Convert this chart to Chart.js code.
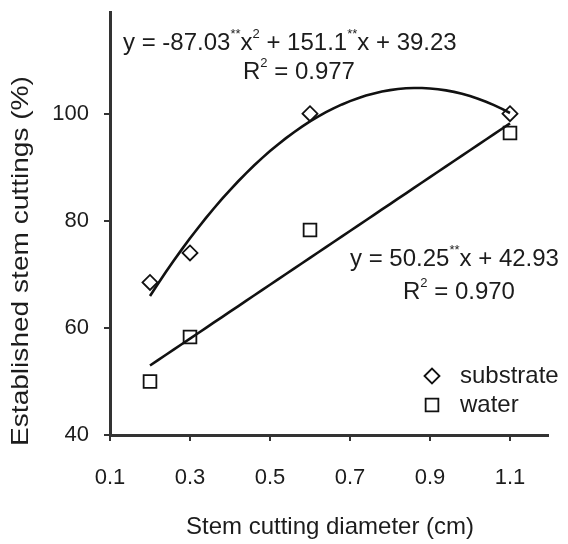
<!DOCTYPE html>
<html lang="en">
<head>
  <meta charset="UTF-8">
  <title>Established stem cuttings</title>
  <style>
    body { margin: 0; background: #fff; }
    #wrap { width: 568px; height: 544px; }
  </style>
</head>
<body>
  <div id="wrap"><canvas id="stemChart" width="568" height="544"></canvas></div>

  <script src="https://cdn.jsdelivr.net/npm/chart.js"></script>
  <script>
    // values
    const diameters = [0.2, 0.3, 0.6, 1.1];
    const substrate = [68.5, 74, 100, 100];
    const water = [50, 58.3, 78.3, 96.4];
    const xTicks = [0.1, 0.3, 0.5, 0.7, 0.9, 1.1];
    const yTicks = [40, 60, 80, 100];

    // regression equations printed on the figure
    const quadFit = [-87.03, 151.1, 39.23];   // a x^2 + b x + c
    const linFit = [50.25, 42.93];            // m x + q
    const fitRange = [0.2, 1.1];

    const ink = '#1c1c1c';
    const fontFamily = '"Liberation Sans", Arial, sans-serif';

    // sample the fitted curves between the first and last diameter
    const fitX = [];
    for (let i = 0; i <= 45; i++) fitX.push(fitRange[0] + (fitRange[1] - fitRange[0]) * i / 45);
    const quadPts = fitX.map(x => ({ x: x, y: quadFit[0] * x * x + quadFit[1] * x + quadFit[2] }));
    const linPts = fitX.map(x => ({ x: x, y: linFit[0] * x + linFit[1] }));

    const toPts = vals => diameters.map((d, i) => ({ x: d, y: vals[i] }));

    // text with superscripts: runs of [text, isSup]
    function richText(ctx, runs, x, y, size) {
      let cx = x;
      runs.forEach(r => {
        const s = r[1] ? Math.round(size * 0.55) : size;
        ctx.font = s + 'px ' + fontFamily;
        ctx.fillText(r[0], cx, r[1] ? y - size * 0.34 : y);
        cx += ctx.measureText(r[0]).width;
      });
    }

    const notes = {
      id: 'notes',
      afterDraw(chart) {
        const ctx = chart.ctx;
        ctx.save();
        ctx.fillStyle = ink;
        ctx.textBaseline = 'middle';
        ctx.textAlign = 'left';

        richText(ctx, [['y = -87.03', 0], ['**', 1], ['x', 0], ['2', 1], [' + 151.1', 0], ['**', 1], ['x + 39.23', 0]], 123, 43, 24);
        richText(ctx, [['R', 0], ['2', 1], [' = 0.977', 0]], 243, 72, 24);
        richText(ctx, [['y = 50.25', 0], ['**', 1], ['x + 42.93', 0]], 350, 259, 24);
        richText(ctx, [['R', 0], ['2', 1], [' = 0.970', 0]], 403, 292, 24);

        // legend
        const items = [chart.data.datasets[0], chart.data.datasets[1]];
        items.forEach((ds, i) => {
          const y = 376 + i * 29;
          ctx.strokeStyle = ds.borderColor;
          ctx.fillStyle = '#fff';
          ctx.lineWidth = ds.borderWidth;
          Chart.helpers.drawPoint(ctx, { pointStyle: ds.pointStyle, radius: ds.pointRadius, borderWidth: ds.borderWidth, rotation: 0 }, 432, y);
          ctx.fillStyle = ink;
          ctx.font = '24px ' + fontFamily;
          ctx.fillText(ds.label, 460, y);
        });

        // axis titles
        ctx.font = '24px ' + fontFamily;
        ctx.textAlign = 'center';
        ctx.fillText('Stem cutting diameter (cm)', 330, 527);
        ctx.translate(21, 261);
        ctx.rotate(-Math.PI / 2);
        ctx.scale(1.17, 1);
        ctx.fillText('Established stem cuttings (%)', 0, 0);
        ctx.restore();
      }
    };

    const axisStyle = {
      border: { display: true, color: '#333', width: 3 },
      grid: { drawOnChartArea: false, drawTicks: true, tickLength: 6, color: '#333', lineWidth: 2 },
    };

    const config = {
      type: 'scatter',
      data: {
        datasets: [
          {
            label: 'substrate',
            data: toPts(substrate),
            pointStyle: 'rectRot',
            pointRadius: 7.5,
            borderWidth: 1.8,
            borderColor: '#111',
            backgroundColor: '#fff',
            order: 2
          },
          {
            label: 'water',
            data: toPts(water),
            pointStyle: 'rect',
            pointRadius: 9,
            borderWidth: 1.8,
            borderColor: '#111',
            backgroundColor: '#fff',
            order: 2
          },
          {
            label: 'substrate fit',
            data: quadPts,
            showLine: true,
            pointRadius: 0,
            borderWidth: 2.6,
            borderColor: '#111',
            order: 1
          },
          {
            label: 'water fit',
            data: linPts,
            showLine: true,
            pointRadius: 0,
            borderWidth: 2.6,
            borderColor: '#111',
            order: 1
          }
        ]
      },
      options: {
        responsive: false,
        animation: false,
        layout: { padding: { left: 0, top: 12, right: 20, bottom: 0 } },
        plugins: {
          legend: { display: false },
          tooltip: { enabled: false }
        },
        scales: {
          x: {
            type: 'linear',
            min: 0.1,
            max: 1.195,
            ...axisStyle,
            afterBuildTicks: s => { s.ticks = xTicks.map(v => ({ value: v })); },
            afterFit: s => { s.height = 109; s.paddingLeft = 0; s.paddingRight = 0; },
            ticks: {
              color: ink,
              padding: 24,
              font: { family: fontFamily, size: 22 },
              callback: v => v.toFixed(1)
            }
          },
          y: {
            type: 'linear',
            min: 40,
            max: 119,
            ...axisStyle,
            afterBuildTicks: s => { s.ticks = yTicks.map(v => ({ value: v })); },
            afterFit: s => { s.width = 110; s.paddingTop = 0; s.paddingBottom = 0; },
            ticks: {
              color: ink,
              padding: 15,
              font: { family: fontFamily, size: 22 }
            }
          }
        }
      },
      plugins: [notes]
    };

    const stemChart = new Chart(document.getElementById('stemChart'), config);
  </script>
</body>
</html>
